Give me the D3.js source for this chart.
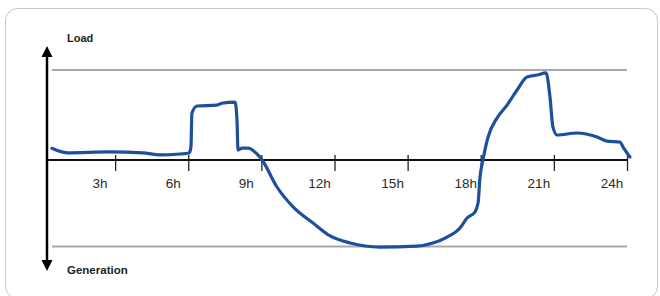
<!DOCTYPE html>
<html>
<head>
<meta charset="utf-8">
<script src="https://cdn.jsdelivr.net/npm/d3@7"></script>
<style>
  body { margin: 0; background: #fff; }
  text { font-family: "Liberation Sans", Arial, sans-serif; }
</style>
</head>
<body>
<div id="chart"></div>
<script>
var svgWidth = 660;
var svgHeight = 296;

// hour of day, net load (+ load / - generation), limits at +100 / -96
var hours = [0.41, 1.03, 2.79, 4.14, 4.84, 5.66, 6.03, 6.11, 6.15, 6.36, 7.18, 7.38, 7.92, 8.0, 8.04, 8.21, 8.45, 8.82, 9.03,
  9.64, 10.3, 11.12, 11.82, 12.64, 13.87, 15.38, 16.04, 16.62, 17.15, 17.44, 17.76, 17.89, 17.97, 18.09, 18.3, 18.67,
  19.08, 19.49, 19.9, 20.31, 20.68, 20.84, 20.96, 21.13, 21.95, 22.77, 23.18, 23.71, 23.84, 24.12];
var values = [13, 8, 9, 8, 5.6, 6.7, 7.8, 14, 52, 60, 61, 63, 64.4, 44, 11, 13.3, 13.3, 6.7, 0,
  -30, -52, -70, -84.4, -92.2, -96.7, -95.6, -92.2, -85.6, -75.6, -64.4, -57.8, -47.8, -19, 0, 25.6, 46.7,
  61, 77.8, 92.2, 94.4, 96.7, 70, 36.7, 27.8, 30, 25.6, 21, 20, 14.4, 3.3];
var tickHours = [3, 6, 9, 12, 15, 18, 21, 24];
var tickLabels = ["3h", "6h", "9h", "12h", "15h", "18h", "21h", "24h"];
var limits = [100, -96];

var svg = d3.select("#chart")
  .append("svg")
  .attr("width", svgWidth)
  .attr("height", svgHeight);

// card
svg.append("rect")
  .attr("x", 5.5)
  .attr("y", 8.5)
  .attr("width", 652)
  .attr("height", 290)
  .attr("rx", 12)
  .attr("fill", "#fff")
  .attr("stroke", "#c8c8c8");

var x = d3.scaleLinear().domain([0, 24]).range([42, 627]);
var y = d3.scaleLinear().domain([-100, 100]).range([250, 70]);

// limit lines
svg.selectAll(".limit")
  .data(limits)
  .enter()
  .append("line")
  .attr("class", "limit")
  .attr("x1", 52)
  .attr("x2", x(24))
  .attr("y1", d => y(d))
  .attr("y2", d => y(d))
  .attr("stroke", "#a8a8a8")
  .attr("stroke-width", 2);

// x axis
var xAxis = d3.axisBottom(x)
  .tickValues(tickHours)
  .tickSize(11)
  .tickFormat("");

var axisG = svg.append("g")
  .attr("transform", `translate(0, ${y(0)})`)
  .call(xAxis);
axisG.select(".domain").remove();
axisG.selectAll(".tick line")
  .attr("y1", -5)
  .attr("stroke", "#222")
  .attr("stroke-width", 1.3);

svg.append("line")
  .attr("x1", 47)
  .attr("x2", x(24))
  .attr("y1", y(0))
  .attr("y2", y(0))
  .attr("stroke", "#111")
  .attr("stroke-width", 2);

svg.selectAll(".tlabel")
  .data(tickHours)
  .enter()
  .append("text")
  .attr("class", "tlabel")
  .attr("x", d => x(d) - 15)
  .attr("y", 188)
  .attr("text-anchor", "middle")
  .attr("font-size", "13.5px")
  .attr("fill", "#2a2a2a")
  .text((d, i) => tickLabels[i]);

// vertical double arrow
svg.append("line")
  .attr("x1", 47)
  .attr("x2", 47)
  .attr("y1", 54)
  .attr("y2", 262)
  .attr("stroke", "#000")
  .attr("stroke-width", 2.5);
svg.append("path")
  .attr("d", "M47,46 L52.5,57 L41.5,57 Z")
  .attr("fill", "#000");
svg.append("path")
  .attr("d", "M47,271 L52.5,260 L41.5,260 Z")
  .attr("fill", "#000");

svg.append("text")
  .attr("x", 67)
  .attr("y", 42)
  .attr("font-size", "11px")
  .attr("font-weight", "bold")
  .attr("fill", "#222")
  .text("Load");

svg.append("text")
  .attr("x", 67)
  .attr("y", 274)
  .attr("font-size", "11.5px")
  .attr("font-weight", "bold")
  .attr("fill", "#222")
  .text("Generation");

// load curve
var line = d3.line()
  .x((d, i) => x(hours[i]))
  .y(d => y(d))
  .curve(d3.curveMonotoneX);

svg.append("path")
  .datum(values)
  .attr("d", line)
  .attr("fill", "none")
  .attr("stroke", "#1d4f9f")
  .attr("stroke-width", 3.2)
  .attr("stroke-linejoin", "round")
  .attr("stroke-linecap", "round");
</script>
</body>
</html>
